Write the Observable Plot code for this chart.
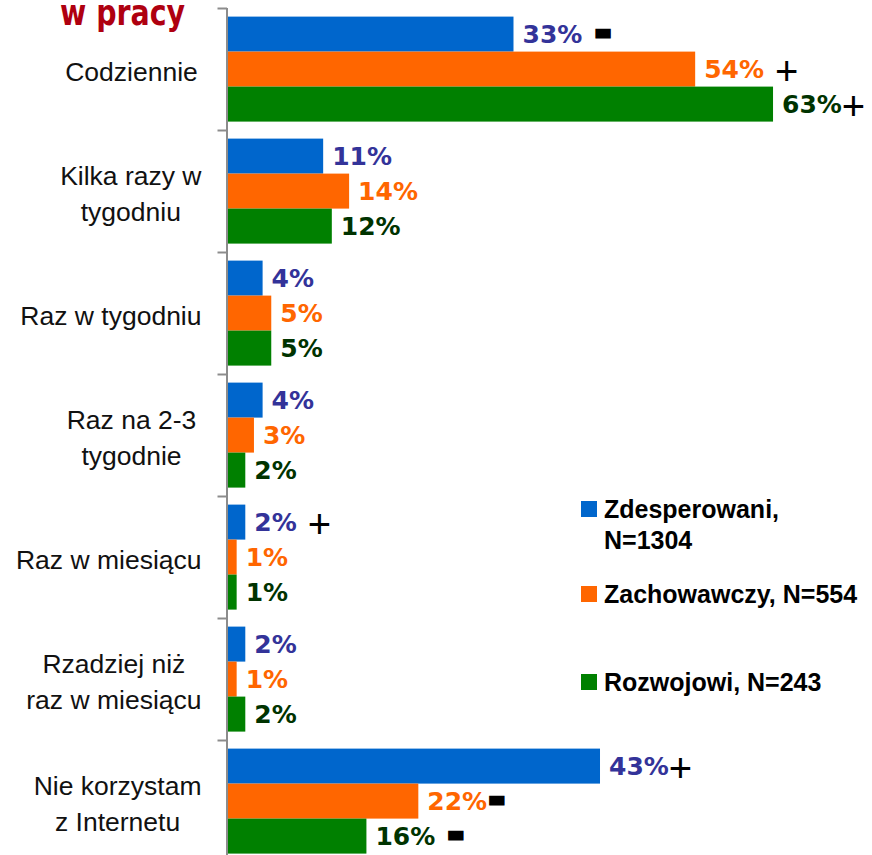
<!DOCTYPE html>
<html>
<head>
<meta charset="utf-8">
<script src="https://cdn.jsdelivr.net/npm/d3@7"></script>
<script src="https://cdn.jsdelivr.net/npm/@observablehq/plot@0.6"></script>
<style>
  html, body { margin: 0; padding: 0; background: #fff; overflow: hidden; }
  #wrap { position: relative; width: 872px; height: 855px; overflow: hidden; }
  #title { position: absolute; left: 60px; top: -5.5px; font: bold 36px "DejaVu Sans"; line-height: 36px;
           color: #AF0010; transform: scaleX(0.79); transform-origin: left top; white-space: nowrap; }
  .leg { position: absolute; left: 581px; font: bold 25px "Liberation Sans"; line-height: 31px; color: #000; white-space: nowrap; }
  .leg .sw { position: absolute; left: 0; width: 16px; height: 16px; top: 7.5px; }
  .leg .tx { position: absolute; left: 23px; top: 0; }
  #chart { position: absolute; left: 0; top: 0; }
</style>
</head>
<body>
<div id="wrap">
  <div id="chart"></div>
  <div id="title"></div>
  <div id="legend"></div>
</div>
<script>
// ---- data ----
const titleText = "w pracy";
const categories = [
  "Codziennie",
  "Kilka razy w\ntygodniu",
  "Raz w tygodniu",
  "Raz na 2-3\ntygodnie",
  "Raz w miesiącu",
  "Rzadziej niż\nraz w miesiącu",
  "Nie korzystam\nz Internetu"
];
const seriesNames = ["Zdesperowani, N=1304", "Zachowawczy, N=554", "Rozwojowi, N=243"];
const legendLabels = ["Zdesperowani,\nN=1304", "Zachowawczy, N=554", "Rozwojowi, N=243"];
const zdesperowani = [33, 11, 4, 4, 2, 2, 43];
const zachowawczy  = [54, 14, 5, 3, 1, 1, 22];
const rozwojowi    = [63, 12, 5, 2, 1, 2, 16];
const signsZdesperowani = [" -", "", "", "", " +", "", "+"];
const signsZachowawczy  = [" +", "", "", "", "", "", "-"];
const signsRozwojowi    = ["+", "", "", "", "", "", " -"];

// ---- styles ----
const barColors = ["#0066CC", "#FF6600", "#008000"];
const labelColors = ["#333399", "#FF6600", "#003300"];

const values = [zdesperowani, zachowawczy, rozwojowi];
const signs = [signsZdesperowani, signsZachowawczy, signsRozwojowi];
const rows = categories.flatMap((cat, i) => seriesNames.map((s, j) => ({
  cat, series: s, si: j, value: values[j][i], sign: signs[j][i]
})));

const ctx = document.createElement("canvas").getContext("2d");
function textW(str, font) { ctx.font = font; return ctx.measureText(str).width; }

const W = 872, H = 855;
const marginLeft = 228, marginTop = 7.4, pitch = 122.1;
const marginBottom = H - (marginTop + categories.length * pitch);

const catFontSize = 26.5;
const catFont = `${catFontSize}px "Liberation Sans"`;
const labelFontSize = 25;
const labelFont = `bold ${labelFontSize}px "DejaVu Sans"`;
const plusFont = {size: 40, family: "Liberation Sans", weight: "normal", stroke: 0, dy: 3};
const minusFont = {size: 34, family: "DejaVu Sans", weight: "bold", stroke: 5, dy: -2};

const marks = [];
// bars
marks.push(Plot.barX(rows, {fy: "cat", y: "series", x: "value", fill: "series"}));
// axis line
marks.push(Plot.ruleX([0], {stroke: "#8c8c8c", strokeWidth: 2, dx: -1.5}));
// tick marks at group boundaries
marks.push(Plot.frame({anchor: "top", stroke: "#8c8c8c", strokeWidth: 2, insetLeft: -10, insetRight: W - marginLeft + 2.5}));
// value labels
seriesNames.forEach((s, j) => {
  marks.push(Plot.text(rows.filter(d => d.si === j), {
    fy: "cat", y: "series", x: "value", text: d => d.value + "%",
    textAnchor: "start", dx: 8.5, fill: labelColors[j],
    fontSize: labelFontSize, fontWeight: "bold", fontFamily: "DejaVu Sans"
  }));
});
// significance signs
rows.filter(d => d.sign).forEach(d => {
  const isPlus = d.sign.trim() === "+";
  const f = isPlus ? plusFont : minusFont;
  const lw = textW(d.value + "%", labelFont);
  const sp = d.sign.startsWith(" ") ? textW(" ", `normal ${plusFont.size}px "Liberation Sans"`) : 0;
  marks.push(Plot.text([d], {
    fy: "cat", y: "series", x: "value", text: r => r.sign.trim(),
    textAnchor: "start", dx: 8.5 + lw + sp + f.stroke / 2, dy: f.dy,
    fill: "#000", stroke: f.stroke ? "#000" : "none", strokeWidth: f.stroke, strokeLinejoin: "miter",
    fontSize: f.size, fontWeight: f.weight, fontFamily: f.family
  }));
});
// category labels (wrapped, centred, kept left of the axis)
categories.forEach(cat => {
  const lines = cat.split("\n");
  const maxW = Math.max(...lines.map(l => textW(l, catFont)));
  const c = Math.min(131, 201 - maxW / 2);
  marks.push(Plot.text([cat], {
    fy: d => d, text: d => d, frameAnchor: "left", textAnchor: "middle",
    dx: c - marginLeft, fill: "#111", fontSize: catFontSize, fontFamily: "Liberation Sans",
    lineHeight: 36 / catFontSize
  }));
});

const chart = Plot.plot({
  width: W, height: H,
  marginLeft, marginRight: 0, marginTop, marginBottom,
  x: {domain: [0, 74.44], axis: null},
  fy: {domain: categories, padding: 0, axis: null, label: null},
  y: {domain: seriesNames, axis: null, paddingInner: 0, paddingOuter: 0.196},
  color: {domain: seriesNames, range: barColors},
  style: {background: "transparent", overflow: "visible"},
  marks
});
document.getElementById("chart").appendChild(chart);

document.getElementById("title").textContent = titleText;

// legend
const legTops = [493.8, 578.8, 666.8];
const legend = document.getElementById("legend");
legendLabels.forEach((lab, j) => {
  const item = document.createElement("div");
  item.className = "leg";
  item.style.top = legTops[j] + "px";
  const sw = document.createElement("div");
  sw.className = "sw"; sw.style.background = barColors[j];
  const tx = document.createElement("div");
  tx.className = "tx";
  tx.innerHTML = lab.split("\n").join("<br>");
  item.appendChild(sw); item.appendChild(tx);
  legend.appendChild(item);
});
</script>
</body>
</html>
